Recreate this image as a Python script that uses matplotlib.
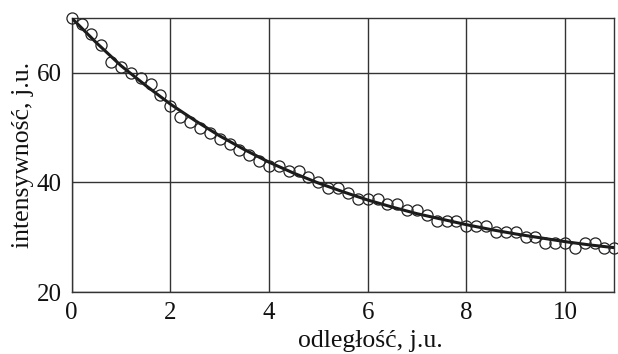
import matplotlib
matplotlib.use("Agg")
import matplotlib.pyplot as plt

x_data = [0.0, 0.2, 0.4, 0.6, 0.8, 1.0, 1.2, 1.4, 1.6, 1.8,
          2.0, 2.2, 2.4, 2.6, 2.8, 3.0, 3.2, 3.4, 3.6, 3.8,
          4.0, 4.2, 4.4, 4.6, 4.8, 5.0, 5.2, 5.4, 5.6, 5.8,
          6.0, 6.2, 6.4, 6.6, 6.8, 7.0, 7.2, 7.4, 7.6, 7.8,
          8.0, 8.2, 8.4, 8.6, 8.8, 9.0, 9.2, 9.4, 9.6, 9.8,
          10.0, 10.2, 10.4, 10.6, 10.8, 11.0]
y_data = [70, 69, 67, 65, 62, 61, 60, 59, 58, 56,
          54, 52, 51, 50, 49, 48, 47, 46, 45, 44,
          43, 43, 42, 42, 41, 40, 39, 39, 38, 37,
          37, 37, 36, 36, 35, 35, 34, 33, 33, 33,
          32, 32, 32, 31, 31, 31, 30, 30, 29, 29,
          29, 28, 29, 29, 28, 28]

x_fit = [0.0, 0.5, 1.0, 1.5, 2.0, 2.5, 3.0, 3.5, 4.0, 4.5, 5.0, 5.5,
         6.0, 6.5, 7.0, 7.5, 8.0, 8.5, 9.0, 9.5, 10.0, 10.5, 11.0]
y_fit = [70.0, 65.5, 61.3, 57.7, 54.3, 51.3, 48.5, 46.0, 43.7, 41.7, 39.9, 38.3,
         36.8, 35.5, 34.3, 33.3, 32.3, 31.4, 30.6, 29.9, 29.2, 28.6, 28.1]

x_ticks = [0, 2, 4, 6, 8, 10]
y_ticks = [20, 40, 60]

plt.rcParams['font.family'] = ['Liberation Serif', 'DejaVu Serif']

fig = plt.figure(figsize=(6.18, 3.54), dpi=100)
ax = fig.add_axes([0.116, 0.175, 0.878, 0.774])

ax.plot(x_fit, y_fit, color='#1a1a1a', lw=2.2, zorder=3)
ax.plot(x_data, y_data, linestyle='none', marker='o', markersize=8,
        markerfacecolor='none', markeredgecolor='#222222', markeredgewidth=0.9, zorder=4,
        clip_on=False)

ax.set_xlim(0, 11)
ax.set_ylim(20, 70)
ax.set_xticks(x_ticks)
ax.set_yticks(y_ticks)
ax.grid(True, color='#333333', lw=1.0)
ax.set_axisbelow(True)
for s in ax.spines.values():
    s.set_color('#333333')
    s.set_linewidth(1.0)
ax.tick_params(axis='x', length=0, labelsize=18, pad=7, colors='#111111')
ax.tick_params(axis='y', length=0, labelsize=18, pad=7, colors='#111111')
ax.set_xlabel('odległość, j.u.', fontsize=18.5, labelpad=2, color='#111111')
ax.xaxis.set_label_coords(0.55, -0.137)
ax.set_ylabel('intensywność, j.u.', fontsize=18.5, labelpad=2, color='#111111')

fig.savefig('out.png', dpi=100)
